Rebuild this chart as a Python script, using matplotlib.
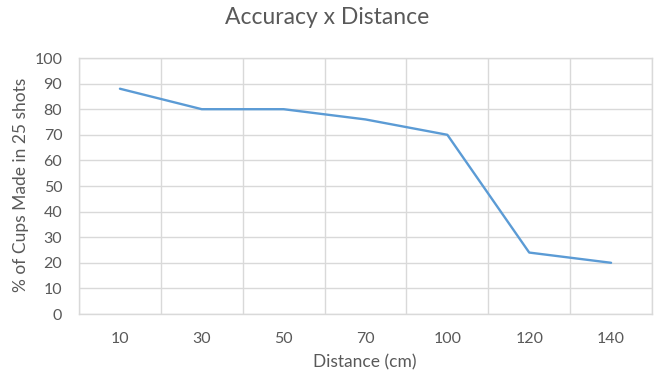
import numpy as np
import matplotlib.pyplot as plt

plt.rcParams['font.family'] = ['Lato', 'DejaVu Sans']

distances = ['10', '30', '50', '70', '100', '120', '140']
accuracy = [88, 80, 80, 76, 70, 24, 20]

txt = '#595959'
grid = '#D9D9D9'

fig = plt.figure(figsize=(6.54, 3.72), dpi=100)
ax = fig.add_axes([79 / 654, (372 - 314) / 372, 573 / 654, 256 / 372])

x = np.arange(len(distances))
ax.plot(x, accuracy, color='#5B9BD5', lw=1.7, solid_capstyle='round')

ax.set_xlim(-0.5, len(distances) - 0.5)
ax.set_ylim(0, 100)
ax.set_yticks(range(0, 101, 10))
ax.set_xticks(x)
ax.set_xticklabels(distances)
ax.set_xticks(np.arange(-0.5, len(distances), 1), minor=True)

ax.grid(axis='y', which='major', color=grid, lw=1)
ax.grid(axis='x', which='minor', color=grid, lw=1)
ax.grid(axis='x', which='major', visible=False)
ax.set_axisbelow(True)
for s in ax.spines.values():
    s.set_color(grid)
    s.set_linewidth(1)

ax.tick_params(which='both', length=0, colors=txt, labelsize=11.5)
ax.tick_params(axis='x', pad=13)
ax.tick_params(axis='y', pad=12)

# axis titles placed in figure pixels
fig.text(365 / 654, 1 - 362 / 372, 'Distance (cm)', color=txt, fontsize=12.5,
         ha='center', va='center')
fig.text(21 / 654, 1 - 185 / 372, '% of Cups Made in 25 shots', color=txt,
         fontsize=12.5, ha='center', va='center', rotation=90)
fig.text(0.5, 1 - 18 / 372, 'Accuracy x Distance', color=txt, fontsize=16.5,
         ha='center', va='center')

plt.savefig('out.png', dpi=100)
